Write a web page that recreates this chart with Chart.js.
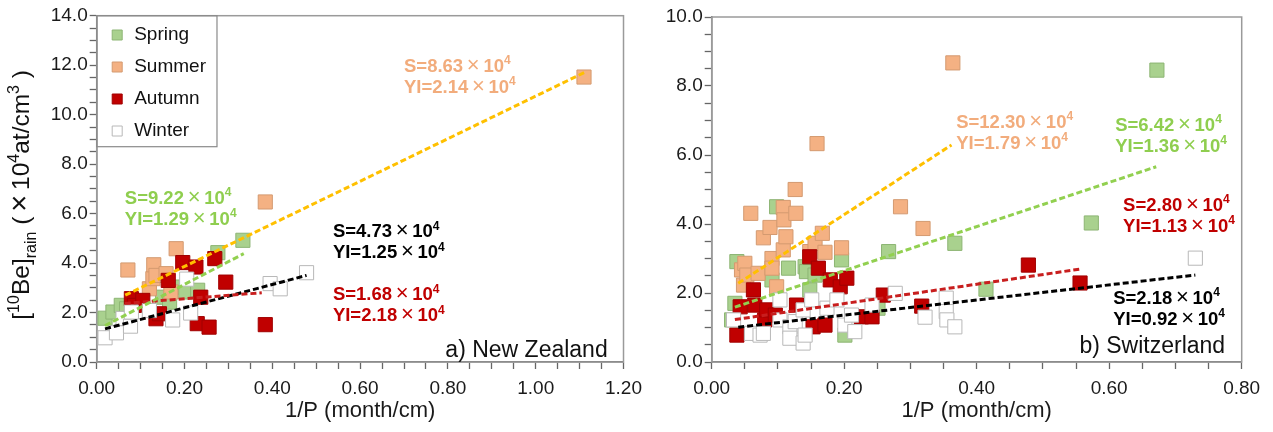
<!DOCTYPE html>
<html>
<head>
<meta charset="utf-8">
<script src="https://cdn.jsdelivr.net/npm/chart.js@4.4.1/dist/chart.umd.min.js"></script>
<style>
  body { margin: 0; background: #fff; }
  #nz { position: absolute; left: 0; top: 0; }
  #ch { position: absolute; left: 650px; top: 0; }
</style>
</head>
<body>
<canvas id="nz" width="650" height="432"></canvas>
<canvas id="ch" width="623" height="432"></canvas>
<script>
// ----------------------- dados --------------------------------------------//

var seasons = ['Spring', 'Summer', 'Autumn', 'Winter'];

// a) New Zealand: [1/P, 10Be]
var nzSpring = [[0.019, 1.77], [0.037, 2.02], [0.056, 2.29], [0.068, 2.15], [0.150, 2.62], [0.166, 2.42], [0.180, 3.03], [0.203, 2.83], [0.230, 2.90], [0.276, 4.42], [0.333, 4.92]];
var nzSummer = [[0.071, 3.72], [0.120, 2.96], [0.128, 3.37], [0.130, 3.93], [0.135, 3.50], [0.158, 3.57], [0.169, 2.83], [0.181, 4.58], [0.384, 6.47], [1.110, 11.52]];
var nzAutumn = [[0.079, 2.56], [0.086, 2.29], [0.105, 2.49], [0.135, 1.75], [0.143, 1.95], [0.163, 3.30], [0.196, 4.02], [0.226, 3.84], [0.229, 1.55], [0.237, 2.62], [0.256, 1.41], [0.269, 4.18], [0.294, 3.23], [0.384, 1.51]];
var nzWinter = [[0.019, 0.98], [0.045, 1.18], [0.060, 1.76], [0.077, 1.45], [0.079, 2.02], [0.120, 2.08], [0.173, 1.70], [0.205, 3.35], [0.214, 1.98], [0.395, 3.17], [0.418, 2.96], [0.478, 3.61]];
// trend lines, start and end
var nzTrends = [
  [[0.019, 1.47], [0.335, 4.38]],
  [[0.065, 2.70], [1.114, 11.73]],
  [[0.064, 2.37], [0.376, 2.80]],
  [[0.019, 1.34], [0.478, 3.50]]
];
var nzSlope = [9.22, 8.63, 1.68, 4.73];
var nzIntercept = [1.29, 2.14, 2.18, 1.25];

// b) Switzerland
var chSpring = [[0.030, 1.22], [0.035, 1.70], [0.038, 2.91], [0.091, 2.38], [0.098, 4.50], [0.116, 2.72], [0.141, 2.76], [0.143, 2.62], [0.148, 2.09], [0.156, 2.52], [0.196, 2.96], [0.201, 0.78], [0.251, 1.56], [0.267, 3.20], [0.367, 3.44], [0.414, 2.11], [0.573, 4.03], [0.672, 8.46]];
var chSummer = [[0.045, 2.67], [0.048, 2.23], [0.050, 2.86], [0.053, 2.52], [0.059, 4.31], [0.070, 2.57], [0.078, 3.60], [0.088, 3.90], [0.091, 3.00], [0.091, 2.72], [0.098, 2.18], [0.108, 4.48], [0.108, 3.25], [0.109, 4.12], [0.112, 3.63], [0.126, 5.00], [0.127, 4.31], [0.148, 3.20], [0.156, 3.44], [0.159, 6.33], [0.167, 3.73], [0.171, 3.18], [0.196, 3.31], [0.285, 4.50], [0.319, 3.87], [0.364, 8.67]];
var chAutumn = [[0.038, 0.78], [0.043, 1.60], [0.063, 2.09], [0.065, 1.65], [0.080, 1.22], [0.083, 1.51], [0.096, 1.36], [0.128, 1.65], [0.148, 3.05], [0.153, 1.02], [0.161, 2.72], [0.171, 1.07], [0.179, 2.38], [0.194, 2.18], [0.204, 2.43], [0.226, 1.31], [0.242, 1.31], [0.259, 1.94], [0.317, 1.62], [0.478, 2.81], [0.556, 2.29]];
var chWinter = [[0.033, 1.22], [0.060, 0.83], [0.073, 0.78], [0.078, 0.83], [0.103, 1.80], [0.103, 1.22], [0.118, 1.02], [0.118, 0.69], [0.126, 1.17], [0.138, 1.51], [0.138, 0.55], [0.141, 0.78], [0.151, 1.80], [0.174, 1.56], [0.189, 1.80], [0.201, 1.07], [0.211, 1.36], [0.216, 0.88], [0.242, 1.65], [0.277, 1.99], [0.322, 1.30], [0.354, 1.85], [0.354, 1.46], [0.355, 1.22], [0.367, 1.02], [0.730, 3.01]];
var chTrends = [
  [[0.035, 1.59], [0.671, 5.66]],
  [[0.040, 2.28], [0.362, 6.29]],
  [[0.035, 1.23], [0.555, 2.69]],
  [[0.040, 1.01], [0.730, 2.52]]
];
var chSlope = [6.42, 12.30, 2.80, 2.18];
var chIntercept = [1.36, 1.79, 1.13, 0.92];

// ----------------------- estilo --------------------------------------------//

var FONT = '"Liberation Sans", Arial, Helvetica, sans-serif';
var fill = ['#a9d18e', '#f4b183', '#c00000', '#ffffff'];
var edge = ['#8db574', '#d49a70', '#a00000', '#b8b8b8'];
var lineColor = ['#92d050', '#ffc000', '#c81e1e', '#000000'];
var textColor = ['#8fce4f', '#f2ac7c', '#c00000', '#000000'];

// where the S / YI texts sit (data units of each panel)
var nzNotePos = [[0.064, 6.38], [0.700, 11.72], [0.538, 2.49], [0.538, 5.04]];
var chNotePos = [[0.609, 6.70], [0.369, 6.78], [0.621, 4.38], [0.606, 1.68]];

function pts(arr) {
  return arr.map(function (p) { return { x: p[0], y: p[1] }; });
}

function isMajor(v, step) {
  return Math.abs(v / step - Math.round(v / step)) < 1e-6;
}

function buildDatasets(series, trends) {
  var ds = [];
  series.forEach(function (s, i) {
    ds.push({
      label: seasons[i],
      data: pts(s),
      pointStyle: 'rect',
      pointRadius: 10,
      pointHoverRadius: 10,
      backgroundColor: fill[i],
      borderColor: edge[i],
      borderWidth: 1,
      order: 5 - i
    });
  });
  trends.forEach(function (t, i) {
    ds.push({
      type: 'line',
      label: 'fit ' + seasons[i],
      data: pts(t),
      borderColor: lineColor[i],
      borderWidth: 3,
      borderDash: [6, 3],
      pointRadius: 0,
      fill: false,
      order: 0
    });
  });
  return ds;
}

// text with super/subscripts, kinds: n, sup, sub, x (wide thin times sign)
function drawRich(ctx, parts, x, y, size, weight, color, align) {
  var list = parts.map(function (p) {
    var kind = p[1] || 'n';
    var fs = (kind === 'sup' || kind === 'sub') ? Math.round(size * 0.66) : (kind === 'x' ? Math.round(size * 1.2) : size);
    var font = (kind === 'x' ? 'normal' : weight) + ' ' + fs + 'px ' + FONT;
    ctx.font = font;
    var w = ctx.measureText(p[0]).width + (kind === 'x' ? size * 0.4 : 0);
    var dy = kind === 'sup' ? -size * 0.42 : (kind === 'sub' ? size * 0.28 : 0);
    return { txt: p[0], font: font, w: w, dy: dy, kind: kind };
  });
  var total = list.reduce(function (a, p) { return a + p.w; }, 0);
  var cx = align === 'right' ? x - total : (align === 'center' ? x - total / 2 : x);
  ctx.fillStyle = color;
  ctx.textAlign = 'left';
  ctx.textBaseline = 'alphabetic';
  list.forEach(function (p) {
    ctx.font = p.font;
    ctx.fillText(p.txt, cx + (p.kind === 'x' ? size * 0.2 : 0), y + p.dy);
    cx += p.w;
  });
}

function notesPlugin(slopes, intercepts, pos, panel, yTitle) {
  return {
    id: 'notes',
    afterLayout: function (chart) {
      // legend sits inside the plot, a little above the top frame line
      var lg = chart.legend;
      if (lg && lg.options.display) {
        var d = chart.chartArea.top - 3.2 - lg.top;
        lg.top += d;
        lg.bottom += d;
      }
    },
    beforeDatasetsDraw: function (chart) {
      var a = chart.chartArea, ctx = chart.ctx;
      ctx.save();
      ctx.strokeStyle = '#9a9a9a';
      ctx.lineWidth = 1.5;
      ctx.strokeRect(a.left, a.top, a.right - a.left, a.bottom - a.top);
      ctx.restore();
    },
    afterDraw: function (chart) {
      var ctx = chart.ctx, sx = chart.scales.x, sy = chart.scales.y;
      ctx.save();
      slopes.forEach(function (s, i) {
        var x = sx.getPixelForValue(pos[i][0]);
        var y = sy.getPixelForValue(pos[i][1]);
        drawRich(ctx, [['S=' + s.toFixed(2)], ['\u00d7', 'x'], ['10'], ['4', 'sup']], x, y, 18.5, 'bold', textColor[i], 'left');
        drawRich(ctx, [['YI=' + intercepts[i].toFixed(2)], ['\u00d7', 'x'], ['10'], ['4', 'sup']], x, y + 21, 18.5, 'bold', textColor[i], 'left');
      });
      drawRich(ctx, [[panel[0]]], sx.getPixelForValue(panel[1]), sy.getPixelForValue(panel[2]), 23, 'normal', '#111', 'right');

      // legend frame
      var lg = chart.legend;
      if (lg && lg.options.display && lg.legendHitBoxes.length) {
        var right = 0;
        lg.legendHitBoxes.forEach(function (h) { right = Math.max(right, h.left + h.width); });
        var n = lg.legendItems.length;
        var step = 19 + lg.options.labels.padding;
        var bottom = lg.top + lg.options.labels.padding + (n - 1) * step + 9.5 + 15.7;
        ctx.strokeStyle = '#8a8a8a';
        ctx.lineWidth = 1.2;
        ctx.strokeRect(chart.chartArea.left, chart.chartArea.top, right + 11 - chart.chartArea.left, bottom - chart.chartArea.top);
      }

      if (yTitle) {
        ctx.translate(29, (chart.chartArea.top + chart.chartArea.bottom) / 2 + 6);
        ctx.rotate(-Math.PI / 2);
        drawRich(ctx, yTitle, 0, 0, 24.5, 'normal', '#111', 'center');
      }
      ctx.restore();
    }
  };
}

function makeOptions(xMax, yMax, yWidth, padTop, padRight, showLegend) {
  return {
    responsive: false,
    animation: false,
    events: [],
    layout: { padding: { left: 0, top: padTop, right: padRight, bottom: 0 } },
    plugins: {
      tooltip: { enabled: false },
      legend: {
        display: showLegend,
        position: 'chartArea',
        align: 'start',
        labels: {
          usePointStyle: true,
          boxWidth: 15,
          boxHeight: 10,
          padding: 13,
          color: '#111',
          font: { size: 19, family: FONT },
          filter: function (item) { return item.datasetIndex < 4; },
          sort: function (a, b) { return a.datasetIndex - b.datasetIndex; }
        }
      }
    },
    scales: {
      x: {
        type: 'linear',
        min: 0,
        max: xMax,
        afterFit: function (s) { s.height = 432 - 362; },
        border: { color: '#666', width: 1.5 },
        grid: { drawOnChartArea: false, tickLength: 7, color: '#666', tickWidth: 1.3 },
        ticks: {
          stepSize: 0.05,
          autoSkip: false,
          maxRotation: 0,
          padding: 8,
          color: '#1a1a1a',
          font: { size: 19, family: FONT },
          callback: function (v) { return isMajor(v, 0.2) ? v.toFixed(2) : ''; }
        },
        title: {
          display: true,
          text: '1/P (month/cm)',
          color: '#1a1a1a',
          font: { size: 22, family: FONT },
          padding: { top: 0, bottom: 8 }
        }
      },
      y: {
        type: 'linear',
        min: 0,
        max: yMax,
        afterFit: function (s) { s.width = yWidth; },
        border: { color: '#666', width: 1.5 },
        grid: { drawOnChartArea: false, tickLength: 7, color: '#666', tickWidth: 1.3 },
        ticks: {
          stepSize: 0.5,
          autoSkip: false,
          padding: 2,
          color: '#1a1a1a',
          font: { size: 19, family: FONT },
          callback: function (v) { return isMajor(v, 2) ? v.toFixed(1) : ''; }
        }
      }
    }
  };
}

// ----------------------- Gráfico a) New Zealand --------------------------------------------//

var yTitle = [['['], ['10', 'sup'], ['Be]'], ['rain', 'sub'], [' ('], ['\u00d7', 'x'], ['10'], ['4', 'sup'], ['at/cm'], ['3', 'sup'], [' )']];

var ctx = document.getElementById('nz').getContext('2d');
var grafico_nz = new Chart(ctx, {
  type: 'scatter',
  data: { datasets: buildDatasets([nzSpring, nzSummer, nzAutumn, nzWinter], nzTrends) },
  options: makeOptions(1.2, 14, 96.7, 15.7, 22, true),
  plugins: [notesPlugin(nzSlope, nzIntercept, nzNotePos, ['a) New Zealand', 1.164, 0.22], yTitle)]
});

// ----------------------- Gráfico b) Switzerland --------------------------------------------//

var ctx2 = document.getElementById('ch').getContext('2d');
var grafico_ch = new Chart(ctx2, {
  type: 'scatter',
  data: { datasets: buildDatasets([chSpring, chSummer, chAutumn, chWinter], chTrends) },
  options: makeOptions(0.8, 10, 61.7, 17, 31.3, false),
  plugins: [notesPlugin(chSlope, chIntercept, chNotePos, ['b) Switzerland', 0.775, 0.26], null)]
});
</script>
</body>
</html>
